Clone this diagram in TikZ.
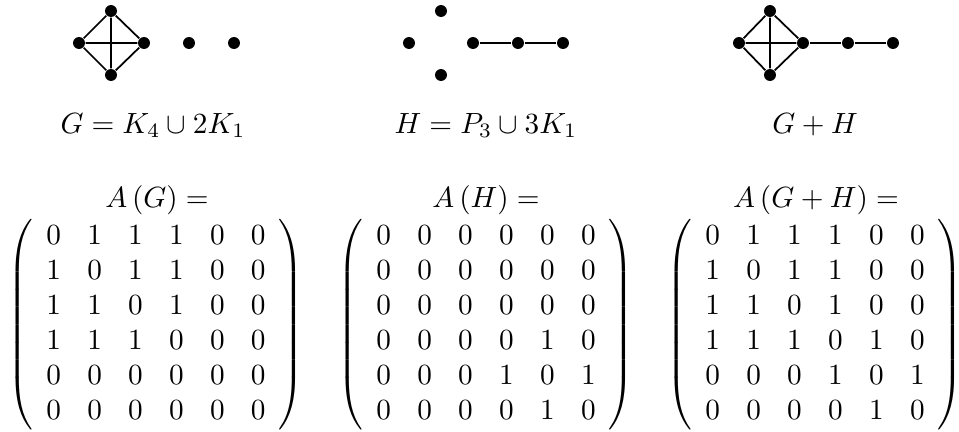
\documentclass[tikz,border=0pt]{standalone}
\begin{document}
\begin{tikzpicture}[x=0.342pt,y=-0.342pt,
  vtx/.style={circle,fill=black,inner sep=0pt,minimum size=4.1pt},
  edge/.style={line width=0.6pt},
  lbl/.style={anchor=base,inner sep=0pt},
  mat/.style={inner sep=0pt}]
\useasboundingbox (0,0) rectangle (959,432);
% Graph G
\node[vtx] (gt) at (111,11) {};
\node[vtx] (gl) at (79,43) {};
\node[vtx] (gr) at (144,43) {};
\node[vtx] (gb) at (111,75) {};
\node[vtx] (gi) at (189,43) {};
\node[vtx] (gj) at (234,43) {};
\draw[edge] (gt) -- (gl) (gt) -- (gr) (gt) -- (gb) (gl) -- (gr) (gl) -- (gb) (gr) -- (gb);
% Graph H
\node[vtx] (ht) at (441,11) {};
\node[vtx] (hl) at (409,43) {};
\node[vtx] (hb) at (441,75) {};
\node[vtx] (hp) at (473,43) {};
\node[vtx] (hq) at (518,43) {};
\node[vtx] (hr) at (563,43) {};
\draw[edge] (hp) -- (hq) -- (hr);
% Graph G+H
\node[vtx] (st) at (770,11) {};
\node[vtx] (sl) at (739,43) {};
\node[vtx] (sr) at (803,43) {};
\node[vtx] (sb) at (770,75) {};
\node[vtx] (sp) at (848,43) {};
\node[vtx] (sq) at (893,43) {};
\draw[edge] (st) -- (sl) (st) -- (sr) (st) -- (sb) (sl) -- (sr) (sl) -- (sb) (sr) -- (sb);
\draw[edge] (sr) -- (sp) -- (sq);
% Labels
\node[lbl] (lg) at (153,133) {$G=K_4\cup 2K_1$};
\node[lbl] (lh) at (486,133) {$H=P_3\cup 3K_1$};
\node[lbl] (ls) at (815,133) {$G+H$};
\node[lbl] (ag) at (157,207) {$A\left(G\right)=$};
\node[lbl] (ah) at (486,207) {$A\left(H\right)=$};
\node[lbl] (as) at (816,207) {$A\left(G+H\right)=$};
% Matrices
\node[mat] (mg) at (156,325) {$\setlength{\arraycolsep}{4.5pt}\left(\begin{array}{cccccc}
0&1&1&1&0&0\\
1&0&1&1&0&0\\
1&1&0&1&0&0\\
1&1&1&0&0&0\\
0&0&0&0&0&0\\
0&0&0&0&0&0
\end{array}\right)$};
\node[mat] (mh) at (486,325) {$\setlength{\arraycolsep}{4.5pt}\left(\begin{array}{cccccc}
0&0&0&0&0&0\\
0&0&0&0&0&0\\
0&0&0&0&0&0\\
0&0&0&0&1&0\\
0&0&0&1&0&1\\
0&0&0&0&1&0
\end{array}\right)$};
\node[mat] (ms) at (815,325) {$\setlength{\arraycolsep}{4.5pt}\left(\begin{array}{cccccc}
0&1&1&1&0&0\\
1&0&1&1&0&0\\
1&1&0&1&0&0\\
1&1&1&0&1&0\\
0&0&0&1&0&1\\
0&0&0&0&1&0
\end{array}\right)$};
\end{tikzpicture}
\end{document}
